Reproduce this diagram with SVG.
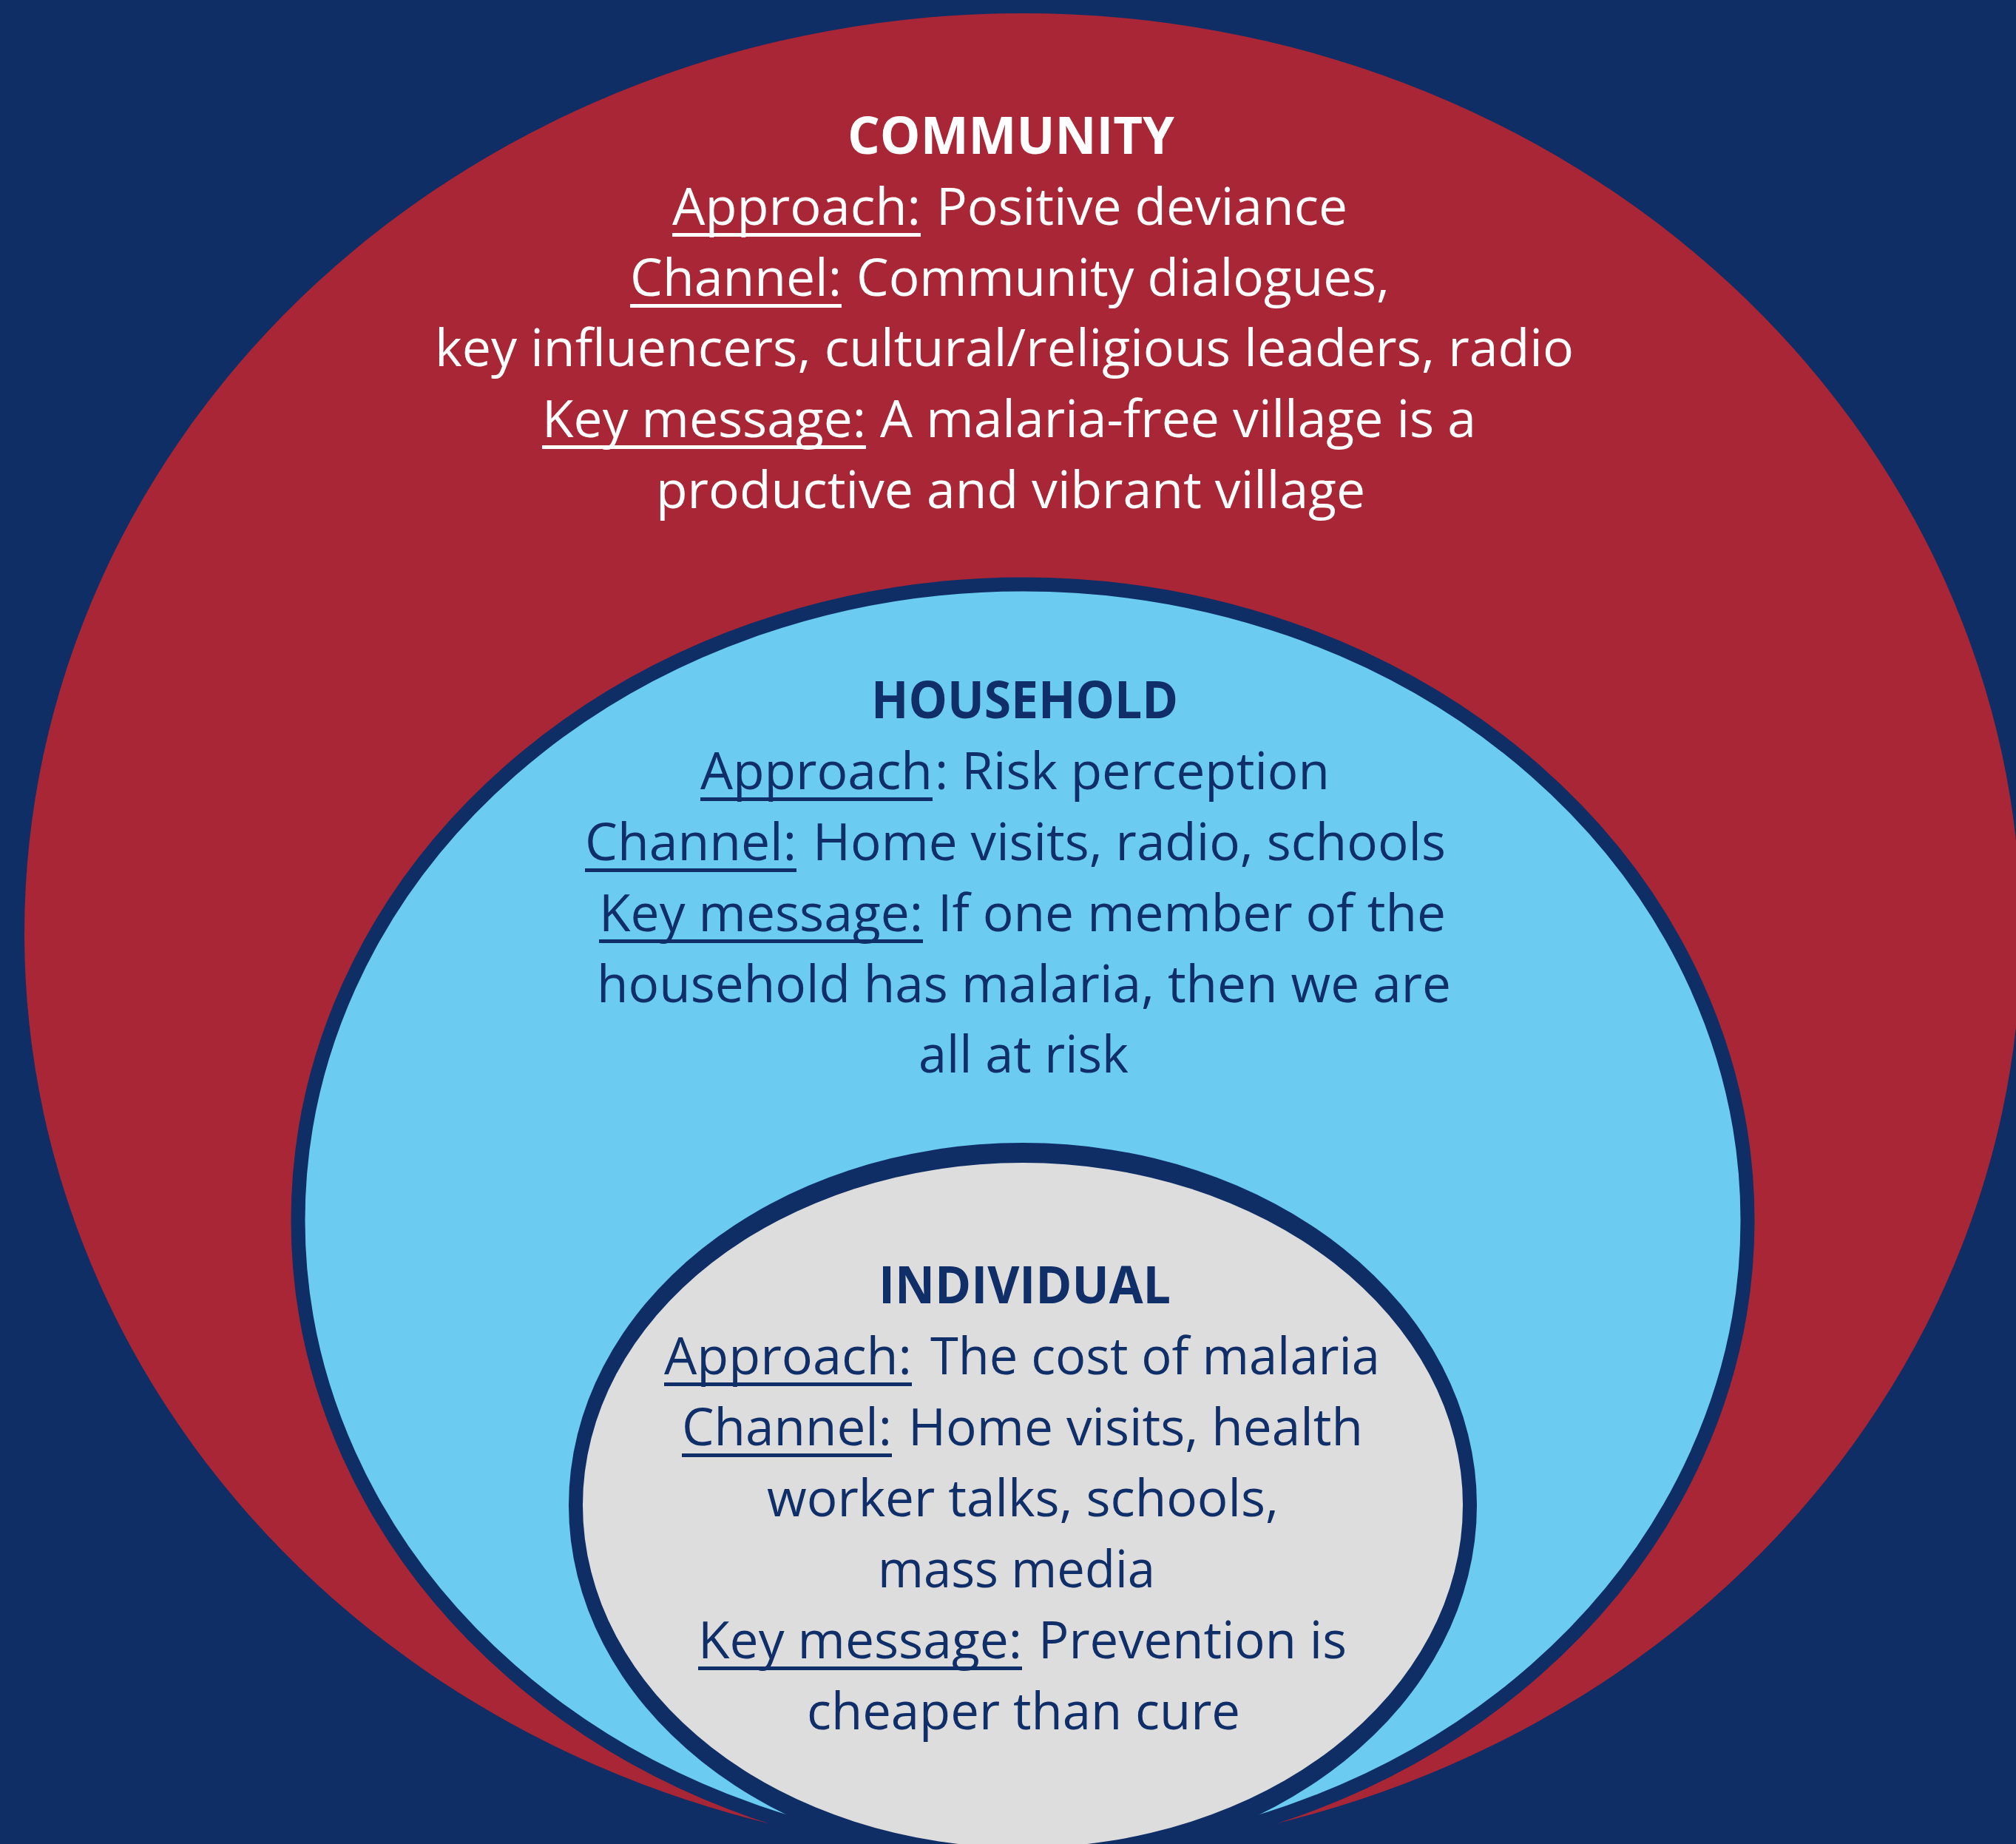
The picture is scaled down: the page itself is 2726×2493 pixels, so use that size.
<svg xmlns="http://www.w3.org/2000/svg" width="2726" height="2493" viewBox="0 0 2726 2493">
<style>
.t{font-family:"Open Sans","Noto Sans","Liberation Sans",sans-serif;font-size:70px}
.b{font-weight:700}
.w{fill:#ffffff}
.n{fill:#102f68}
.uw{fill:#ffffff}
.un{fill:#102f68}
</style>
<rect x="0" y="0" width="2726" height="2493" fill="#0f2e66"/>
<g id="community">
<ellipse cx="1383" cy="1262" rx="1350" ry="1244" fill="#a82635"/>
<text class="t b w" x="1146" y="208" textLength="442" lengthAdjust="spacingAndGlyphs">COMMUNITY</text>
<text class="t w" x="909" y="304" textLength="336" lengthAdjust="spacingAndGlyphs">Approach:</text>
<rect class="uw" x="909" y="315" width="336" height="5"/>
<text class="t w" x="1266" y="304" textLength="556" lengthAdjust="spacingAndGlyphs">Positive deviance</text>
<text class="t w" x="852" y="400" textLength="286" lengthAdjust="spacingAndGlyphs">Channel:</text>
<rect class="uw" x="852" y="411" width="286" height="5"/>
<text class="t w" x="1158" y="400" textLength="721" lengthAdjust="spacingAndGlyphs">Community dialogues,</text>
<text class="t w" x="588" y="495" textLength="1540" lengthAdjust="spacingAndGlyphs">key influencers, cultural/religious leaders, radio</text>
<text class="t w" x="733" y="591" textLength="438" lengthAdjust="spacingAndGlyphs">Key message:</text>
<rect class="uw" x="733" y="602" width="438" height="5"/>
<text class="t w" x="1190" y="591" textLength="806" lengthAdjust="spacingAndGlyphs">A malaria-free village is a</text>
<text class="t w" x="887" y="687" textLength="959" lengthAdjust="spacingAndGlyphs">productive and vibrant village</text>
</g>
<g id="household">
<ellipse cx="1383" cy="1650" rx="980" ry="860" fill="#6ccbf1" stroke="#0f2e66" stroke-width="19"/>
<text class="t b n" x="1178" y="971" textLength="415" lengthAdjust="spacingAndGlyphs">HOUSEHOLD</text>
<text class="t n" x="947" y="1067" textLength="314" lengthAdjust="spacingAndGlyphs">Approach</text>
<rect class="un" x="947" y="1078" width="314" height="5"/>
<text class="t n" x="1264" y="1067" textLength="534" lengthAdjust="spacingAndGlyphs">: Risk perception</text>
<text class="t n" x="791" y="1163" textLength="286" lengthAdjust="spacingAndGlyphs">Channel:</text>
<rect class="un" x="791" y="1174" width="286" height="5"/>
<text class="t n" x="1099" y="1163" textLength="856" lengthAdjust="spacingAndGlyphs">Home visits, radio, schools</text>
<text class="t n" x="810" y="1259" textLength="438" lengthAdjust="spacingAndGlyphs">Key message:</text>
<rect class="un" x="810" y="1270" width="438" height="5"/>
<text class="t n" x="1268" y="1259" textLength="687" lengthAdjust="spacingAndGlyphs">If one member of the</text>
<text class="t n" x="807" y="1355" textLength="1155" lengthAdjust="spacingAndGlyphs">household has malaria, then we are</text>
<text class="t n" x="1242" y="1450" textLength="284" lengthAdjust="spacingAndGlyphs">all at risk</text>
</g>
<g id="individual">
<ellipse cx="1383" cy="2035" rx="614" ry="490" fill="#0f2e66"/>
<ellipse cx="1383" cy="2035" rx="595" ry="463" fill="#dddddd"/>
<text class="t b n" x="1188" y="1762" textLength="395" lengthAdjust="spacingAndGlyphs">INDIVIDUAL</text>
<text class="t n" x="898" y="1858" textLength="335" lengthAdjust="spacingAndGlyphs">Approach:</text>
<rect class="un" x="898" y="1869" width="335" height="5"/>
<text class="t n" x="1258" y="1858" textLength="608" lengthAdjust="spacingAndGlyphs">The cost of malaria</text>
<text class="t n" x="922" y="1954" textLength="284" lengthAdjust="spacingAndGlyphs">Channel:</text>
<rect class="un" x="922" y="1965" width="284" height="5"/>
<text class="t n" x="1228" y="1954" textLength="615" lengthAdjust="spacingAndGlyphs">Home visits, health</text>
<text class="t n" x="1037" y="2050" textLength="692" lengthAdjust="spacingAndGlyphs">worker talks, schools,</text>
<text class="t n" x="1187" y="2146" textLength="375" lengthAdjust="spacingAndGlyphs">mass media</text>
<text class="t n" x="944" y="2242" textLength="438" lengthAdjust="spacingAndGlyphs">Key message:</text>
<rect class="un" x="944" y="2253" width="438" height="5"/>
<text class="t n" x="1404" y="2242" textLength="417" lengthAdjust="spacingAndGlyphs">Prevention is</text>
<text class="t n" x="1091" y="2338" textLength="586" lengthAdjust="spacingAndGlyphs">cheaper than cure</text>
</g>
</svg>
